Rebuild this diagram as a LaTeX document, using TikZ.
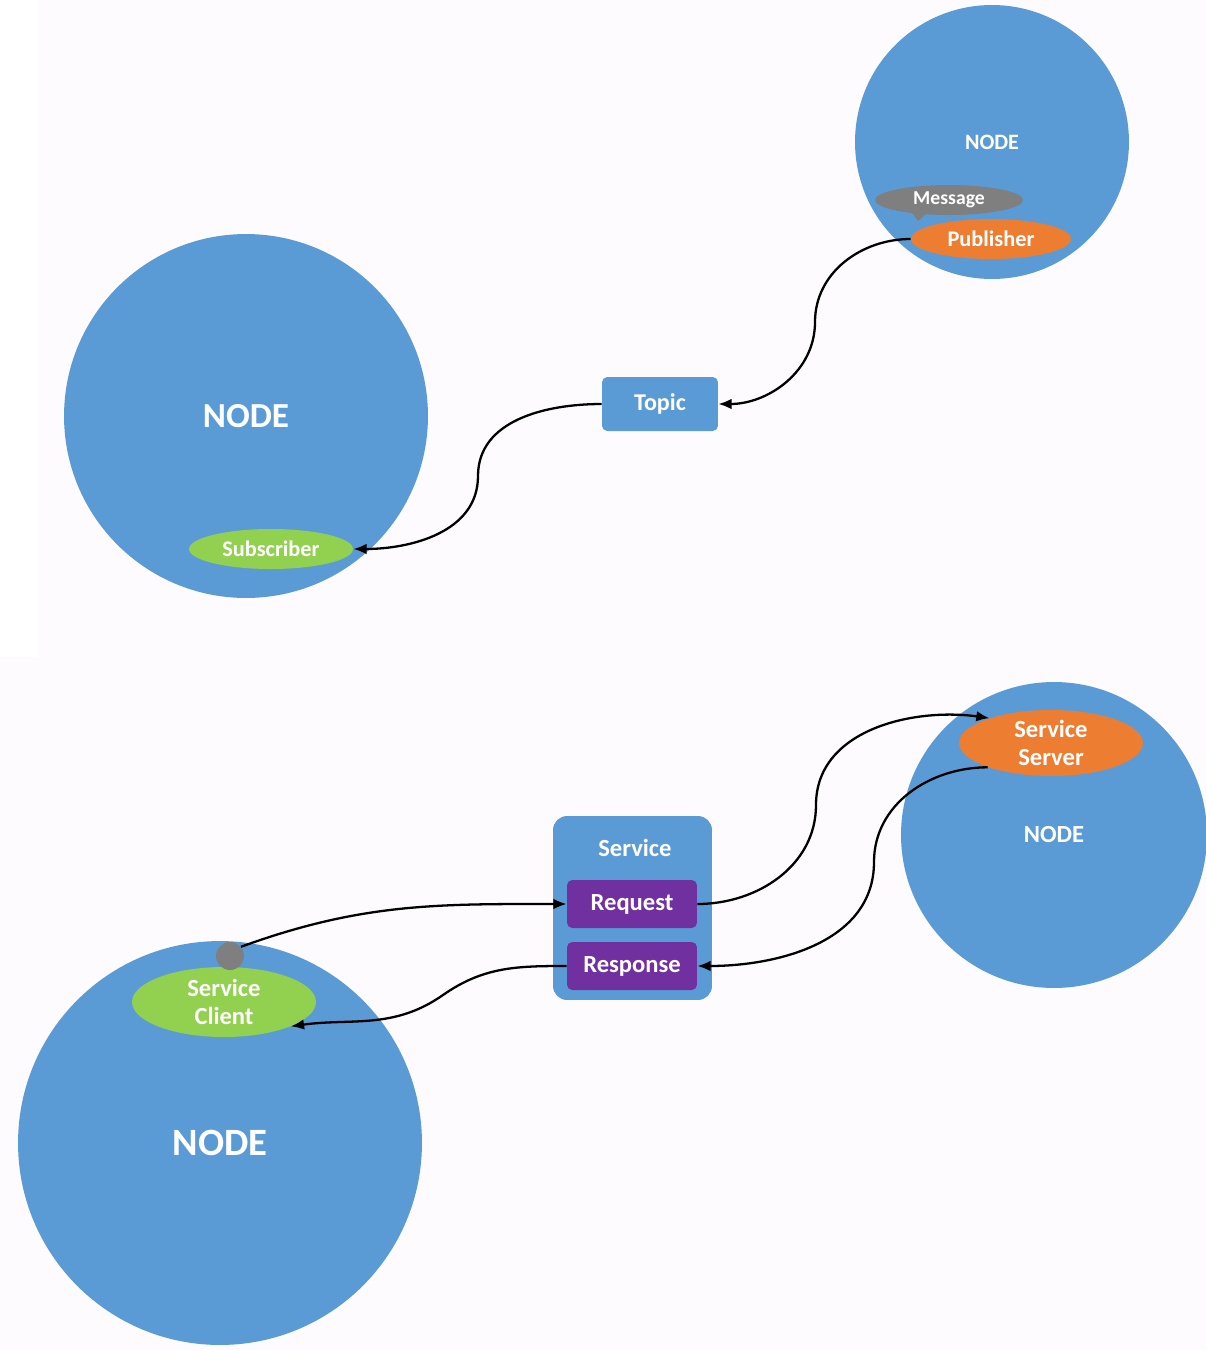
\documentclass[tikz,border=0pt]{standalone}
\usepackage{fontspec}
\setmainfont{Carlito}
\usetikzlibrary{shapes.geometric,arrows.meta}
\definecolor{nodeblue}{HTML}{5B9BD5}
\definecolor{pubor}{HTML}{ED7D31}
\definecolor{subgreen}{HTML}{92D050}
\definecolor{msggray}{HTML}{7F7F7F}
\definecolor{srvpurple}{HTML}{7030A0}
\definecolor{paper}{HTML}{FDFBFD}
\newcommand{\fs}[1]{\bfseries\fontsize{#1}{17}\selectfont}
\tikzset{
  rosnode/.style={circle, fill=nodeblue, inner sep=0pt, text=white},
  pill/.style={ellipse, inner sep=0pt, text=white, align=center},
  box/.style={rectangle, fill=nodeblue, inner sep=0pt, text=white},
  reqbox/.style={rectangle, rounded corners=3pt, fill=srvpurple, inner sep=0pt,
    minimum width=2.6cm, minimum height=0.96cm, text=white, font=\fs{14}},
  conn/.style={-{Latex[length=7.5pt,width=6pt]}, line width=1.3pt, black},
}
\begin{document}
\begin{tikzpicture}[x=0.02cm, y=-0.02cm]
  % page and background
  \useasboundingbox (0,0) rectangle (1206,1350);
  \fill[paper] (0,0) rectangle (1206,1350);
  \fill[white] (0,0) rectangle (38,657);

  % ---------- publish / subscribe ----------
  \node[rosnode, minimum size=5.48cm, font=\fs{12.5}] (n1) at (992,142) {NODE};
  \fill[msggray] (910,210) -- (928,212) -- (918,221) -- cycle;
  \node[pill, fill=msggray, minimum width=2.96cm, minimum height=0.6cm,
        font=\fs{11.2}] (msg) at (949,200) {Message};
  \node[pill, fill=pubor, minimum width=3.2cm, minimum height=0.8cm,
        font=\fs{12.7}] (pub) at (991,239) {Publisher};

  \node[rosnode, minimum size=7.28cm, font=\fs{20}] (n2) at (246,416) {NODE};
  \node[pill, fill=subgreen, minimum width=3.28cm, minimum height=0.8cm,
        font=\fs{12.7}] (sub) at (271,549) {Subscriber};

  \node[box, rounded corners=3pt, minimum width=2.32cm, minimum height=1.08cm,
        font=\fs{13.7}] (topic) at (660,404) {Topic};

  % bend points of the S-shaped connectors
  \coordinate (bp1) at (815,322);
  \coordinate (bp2) at (478,476);
  \draw[conn] (pub.west) to[out=180, in=90] (bp1) to[out=-90, in=0] (topic.east);
  \draw[conn] (topic.west) to[out=180, in=90] (bp2) to[out=-90, in=0] (sub.east);

  % ---------- service ----------
  \node[rosnode, minimum size=6.12cm, font=\fs{14}] (n3) at (1054,835) {NODE};
  \node[pill, fill=pubor, minimum width=3.68cm, minimum height=1.32cm,
        font=\fs{14}] (srv) at (1051,743) {Service\\[-1pt]Server};

  \node[box, rounded corners=8pt, minimum width=3.18cm, minimum height=3.68cm]
        (svc) at (632.5,908) {};
  \node[text=white, font=\fs{14}, inner sep=0pt] (svclbl) at (635,848) {Service};
  \node[reqbox] (req) at (632,904) {Request};
  \node[reqbox] (resp) at (632,966) {Response};

  \node[rosnode, minimum size=8.08cm, font=\fs{22}] (n4) at (220,1143) {NODE};
  \node[pill, fill=subgreen, minimum width=3.68cm, minimum height=1.4cm,
        font=\fs{14}] (cli) at (224,1002) {Service\\[-1pt]Client};
  \node[circle, fill=msggray, minimum size=0.56cm, inner sep=0pt] (dot) at (230,956) {};

  \coordinate (bp3) at (816,805);
  \coordinate (bp4) at (874,862);
  \coordinate (bp5) at (443,995);
  \draw[conn] (dot.40) to[out=20, in=180] (req.west);
  \draw[conn] (req.east) to[out=0, in=-90] (bp3) to[out=90, in=172] (srv.158);
  \draw[conn] (srv.201) to[out=180, in=90] (bp4) to[out=-90, in=0] (resp.east);
  \draw[conn] (resp.west) to[out=180, in=35] (bp5) to[out=-145, in=8] (cli.-20);
\end{tikzpicture}
\end{document}
